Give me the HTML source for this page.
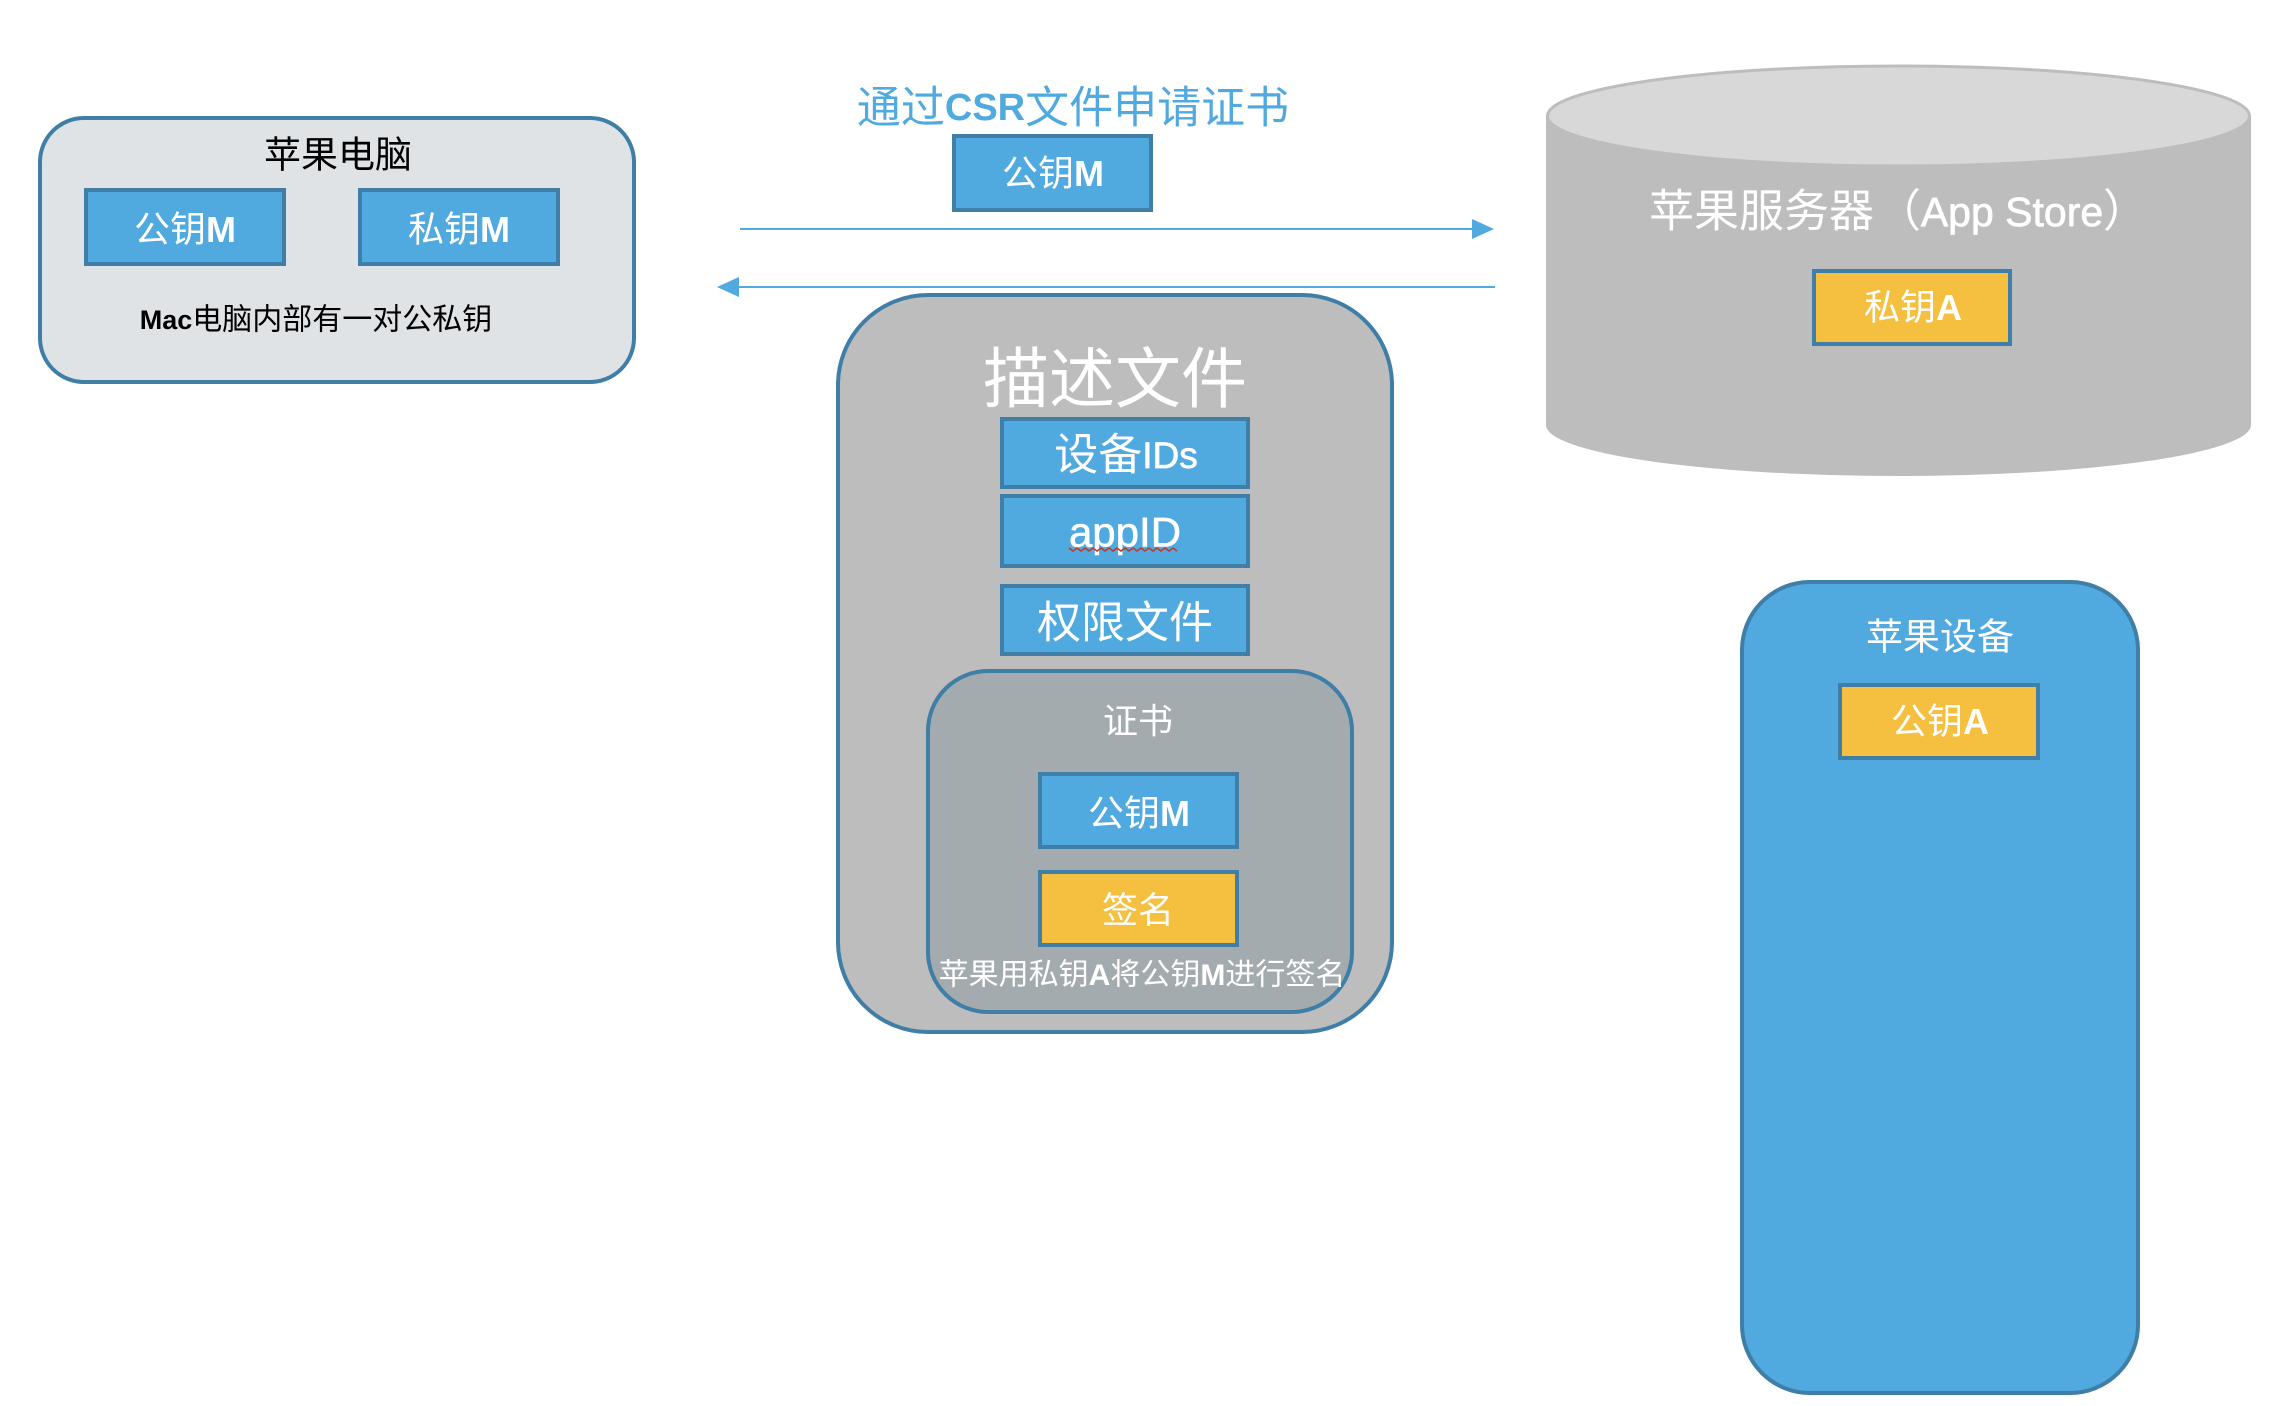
<!DOCTYPE html>
<html lang="zh">
<head>
<meta charset="utf-8">
<style>
html,body{margin:0;padding:0;background:#fff;width:2294px;height:1406px;overflow:hidden}
svg{display:block}
text{font-family:"Liberation Sans","Noto Sans CJK SC",sans-serif;text-anchor:middle;dominant-baseline:central;fill:#fff}
.l{font-weight:700}
.b{fill:#50a9df;stroke:#3f7ea6;stroke-width:4}
.y{fill:#f5bf3f;stroke:#3f7ea6;stroke-width:4}
</style>
</head>
<body>
<svg width="2294" height="1406" viewBox="0 0 2294 1406" xmlns="http://www.w3.org/2000/svg">
<rect width="2294" height="1406" fill="#fff"/>

<!-- Mac -->
<rect x="40" y="118" width="594" height="264" rx="44" fill="#dfe3e6" stroke="#3f7ea6" stroke-width="4"/>
<text x="338" y="155" font-size="37" style="fill:#000">苹果电脑</text>
<rect class="b" x="86" y="190" width="198" height="74"/>
<text x="185" y="229" font-size="36">公钥<tspan class="l">M</tspan></text>
<rect class="b" x="360" y="190" width="198" height="74"/>
<text x="459" y="229" font-size="36">私钥<tspan class="l">M</tspan></text>
<text x="316" y="320" font-size="30" style="fill:#000"><tspan class="l" font-size="27">Mac</tspan>电脑内部有一对公私钥</text>

<!-- CSR -->
<text x="1073" y="108" font-size="44" style="fill:#50a9df">通过<tspan class="l" font-size="38">CSR</tspan>文件申请证书</text>
<rect class="b" x="954" y="136" width="197" height="74"/>
<text x="1053" y="173" font-size="36">公钥<tspan class="l">M</tspan></text>

<!-- Arrows -->
<line x1="740" y1="229" x2="1475" y2="229" stroke="#50a9df" stroke-width="2"/>
<polygon points="1472,219 1494,229 1472,239" fill="#50a9df"/>
<line x1="737" y1="287" x2="1495" y2="287" stroke="#50a9df" stroke-width="2"/>
<polygon points="739,277 717,287 739,297" fill="#50a9df"/>

<!-- Profile -->
<rect x="838" y="295" width="554" height="737" rx="90" fill="#bdbdbd" stroke="#3f7ea6" stroke-width="4"/>
<text x="1115" y="379" font-size="66">描述文件</text>
<rect class="b" x="1002" y="419" width="246" height="68"/>
<text x="1126" y="455" font-size="44">设备<tspan font-size="37" stroke="#fff" stroke-width=".7">IDs</tspan></text>
<rect class="b" x="1002" y="496" width="246" height="70"/>
<text x="1125" y="532" font-size="42" stroke="#fff" stroke-width=".6">appID</text>
<path d="M1069 548 l4 3 l4 -3 l4 3 l4 -3 l4 3 l4 -3 l4 3 l4 -3 l4 3 l4 -3 l4 3 l4 -3 l4 3 l4 -3 l4 3 l4 -3 l4 3 l4 -3 l4 3 l4 -3 l4 3 l4 -3 l4 3 l4 -3 l4 3 l4 -3 l4 3" fill="none" stroke="#c0392b" stroke-width="1.5"/>
<rect class="b" x="1002" y="586" width="246" height="68"/>
<text x="1125" y="623" font-size="44">权限文件</text>

<!-- Cert -->
<rect x="928" y="671" width="424" height="341" rx="60" fill="#a4abaf" stroke="#3f7ea6" stroke-width="4"/>
<text x="1138" y="722" font-size="35">证书</text>
<rect class="b" x="1040" y="774" width="197" height="73"/>
<text x="1139" y="813" font-size="36">公钥<tspan class="l">M</tspan></text>
<rect class="y" x="1040" y="872" width="197" height="73"/>
<text x="1138" y="910" font-size="36">签名</text>
<text x="1142" y="975" font-size="30">苹果用私钥<tspan class="l">A</tspan>将公钥<tspan class="l">M</tspan>进行签名</text>

<!-- Cylinder -->
<rect x="1546" y="116" width="705" height="309" fill="#bdbdbd"/>
<ellipse cx="1898.5" cy="425" rx="352.5" ry="51" fill="#bdbdbd"/>
<ellipse cx="1898.5" cy="116" rx="351" ry="50" fill="#d8d8d8" stroke="#bdbdbd" stroke-width="3"/>
<text x="1649" y="211" font-size="45" style="text-anchor:start">苹果服务器</text>
<text x="1921" y="211" font-size="45" style="text-anchor:end">（</text>
<text x="2012" y="212" font-size="41" stroke="#fff" stroke-width=".7">App Store</text>
<text x="2103" y="211" font-size="45" style="text-anchor:start">）</text>
<rect class="y" x="1814" y="271" width="196" height="73"/>
<text x="1913" y="307" font-size="36">私钥<tspan class="l">A</tspan></text>

<!-- Device -->
<rect x="1742" y="582" width="396" height="811" rx="68" fill="#50a9df" stroke="#3f7ea6" stroke-width="4"/>
<text x="1940" y="637" font-size="37">苹果设备</text>
<rect class="y" x="1840" y="685" width="198" height="73"/>
<text x="1940" y="721" font-size="36">公钥<tspan class="l">A</tspan></text>
</svg>
</body>
</html>
